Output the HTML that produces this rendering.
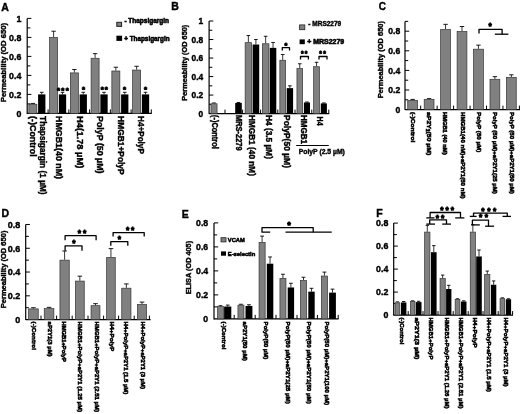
<!DOCTYPE html>
<html><head><meta charset="utf-8"><style>
html,body{margin:0;padding:0;background:#fff;}
body{width:520px;height:414px;overflow:hidden;}
svg{display:block;font-family:"Liberation Sans", sans-serif;will-change:transform;}
text{stroke:#000;}
</style></head><body>
<svg width="520" height="414" viewBox="0 0 520 414">
<rect width="520" height="414" fill="#fff"/>
<text x="1.2" y="10.6" font-size="10.5" font-weight="bold" stroke-width="0.4">A</text>
<line x1="27.2" y1="18.4" x2="27.2" y2="113.9" stroke="#000" stroke-width="1.2"/>
<line x1="27.2" y1="103.9" x2="30.4" y2="103.9" stroke="#000" stroke-width="1"/>
<line x1="27.2" y1="94.4" x2="31.4" y2="94.4" stroke="#000" stroke-width="1"/>
<line x1="27.2" y1="84.9" x2="30.4" y2="84.9" stroke="#000" stroke-width="1"/>
<line x1="27.2" y1="75.4" x2="31.4" y2="75.4" stroke="#000" stroke-width="1"/>
<line x1="27.2" y1="65.9" x2="30.4" y2="65.9" stroke="#000" stroke-width="1"/>
<line x1="27.2" y1="56.4" x2="31.4" y2="56.4" stroke="#000" stroke-width="1"/>
<line x1="27.2" y1="46.9" x2="30.4" y2="46.9" stroke="#000" stroke-width="1"/>
<line x1="27.2" y1="37.4" x2="31.4" y2="37.4" stroke="#000" stroke-width="1"/>
<line x1="27.2" y1="27.9" x2="30.4" y2="27.9" stroke="#000" stroke-width="1"/>
<line x1="27.2" y1="18.4" x2="31.4" y2="18.4" stroke="#000" stroke-width="1"/>
<text x="21.3" y="116.57" text-anchor="end" font-size="8.8" font-weight="bold" stroke-width="0.4">0</text>
<text x="21.3" y="97.57" text-anchor="end" font-size="8.8" font-weight="bold" stroke-width="0.4">0.2</text>
<text x="21.3" y="78.57" text-anchor="end" font-size="8.8" font-weight="bold" stroke-width="0.4">0.4</text>
<text x="21.3" y="59.57" text-anchor="end" font-size="8.8" font-weight="bold" stroke-width="0.4">0.6</text>
<text x="21.3" y="40.57" text-anchor="end" font-size="8.8" font-weight="bold" stroke-width="0.4">0.8</text>
<text x="21.3" y="21.57" text-anchor="end" font-size="8.8" font-weight="bold" stroke-width="0.4">1</text>
<text transform="translate(6.04,102) rotate(-90)" textLength="79" lengthAdjust="spacingAndGlyphs" font-size="7.6" font-weight="bold" stroke-width="0.4">Permeability (OD 650)</text>
<line x1="27.2" y1="113.4" x2="151.8" y2="113.4" stroke="#000" stroke-width="1.2"/>
<line x1="48.1" y1="113.4" x2="48.1" y2="109.4" stroke="#000" stroke-width="1"/>
<line x1="68.85" y1="113.4" x2="68.85" y2="109.4" stroke="#000" stroke-width="1"/>
<line x1="89.6" y1="113.4" x2="89.6" y2="109.4" stroke="#000" stroke-width="1"/>
<line x1="110.35" y1="113.4" x2="110.35" y2="109.4" stroke="#000" stroke-width="1"/>
<line x1="131.1" y1="113.4" x2="131.1" y2="109.4" stroke="#000" stroke-width="1"/>
<line x1="151.3" y1="113.4" x2="151.3" y2="109.4" stroke="#000" stroke-width="1"/>
<line x1="32.85" y1="103.43" x2="32.85" y2="103.9" stroke="#000" stroke-width="0.8"/>
<line x1="30.65" y1="103.43" x2="35.05" y2="103.43" stroke="#000" stroke-width="0.9"/>
<rect x="28.85" y="104.25" width="8" height="9.15" fill="#808080" stroke="#333333" stroke-width="0.7"/>
<line x1="41.75" y1="92.31" x2="41.75" y2="94.4" stroke="#000" stroke-width="0.8"/>
<line x1="39.95" y1="92.31" x2="43.55" y2="92.31" stroke="#000" stroke-width="0.9"/>
<rect x="38.1" y="94.4" width="7.3" height="19" fill="#000"/>
<line x1="53.6" y1="31.23" x2="53.6" y2="37.11" stroke="#000" stroke-width="0.8"/>
<line x1="51.4" y1="31.23" x2="55.8" y2="31.23" stroke="#000" stroke-width="0.9"/>
<rect x="49.6" y="37.46" width="8" height="75.94" fill="#808080" stroke="#333333" stroke-width="0.7"/>
<line x1="62.5" y1="92.31" x2="62.5" y2="94.4" stroke="#000" stroke-width="0.8"/>
<line x1="60.7" y1="92.31" x2="64.3" y2="92.31" stroke="#000" stroke-width="0.9"/>
<rect x="58.85" y="94.4" width="7.3" height="19" fill="#000"/>
<line x1="74.35" y1="69.51" x2="74.35" y2="72.55" stroke="#000" stroke-width="0.8"/>
<line x1="72.15" y1="69.51" x2="76.55" y2="69.51" stroke="#000" stroke-width="0.9"/>
<rect x="70.35" y="72.9" width="8" height="40.5" fill="#808080" stroke="#333333" stroke-width="0.7"/>
<line x1="83.25" y1="92.31" x2="83.25" y2="94.4" stroke="#000" stroke-width="0.8"/>
<line x1="81.45" y1="92.31" x2="85.05" y2="92.31" stroke="#000" stroke-width="0.9"/>
<rect x="79.6" y="94.4" width="7.3" height="19" fill="#000"/>
<line x1="95.1" y1="53.65" x2="95.1" y2="57.92" stroke="#000" stroke-width="0.8"/>
<line x1="92.9" y1="53.65" x2="97.3" y2="53.65" stroke="#000" stroke-width="0.9"/>
<rect x="91.1" y="58.27" width="8" height="55.13" fill="#808080" stroke="#333333" stroke-width="0.7"/>
<line x1="104" y1="92.31" x2="104" y2="94.4" stroke="#000" stroke-width="0.8"/>
<line x1="102.2" y1="92.31" x2="105.8" y2="92.31" stroke="#000" stroke-width="0.9"/>
<rect x="100.35" y="94.4" width="7.3" height="19" fill="#000"/>
<line x1="115.85" y1="67.23" x2="115.85" y2="70.65" stroke="#000" stroke-width="0.8"/>
<line x1="113.65" y1="67.23" x2="118.05" y2="67.23" stroke="#000" stroke-width="0.9"/>
<rect x="111.85" y="71" width="8" height="42.4" fill="#808080" stroke="#333333" stroke-width="0.7"/>
<line x1="124.75" y1="92.31" x2="124.75" y2="94.4" stroke="#000" stroke-width="0.8"/>
<line x1="122.95" y1="92.31" x2="126.55" y2="92.31" stroke="#000" stroke-width="0.9"/>
<rect x="121.1" y="94.4" width="7.3" height="19" fill="#000"/>
<line x1="136.6" y1="66.28" x2="136.6" y2="69.7" stroke="#000" stroke-width="0.8"/>
<line x1="134.4" y1="66.28" x2="138.8" y2="66.28" stroke="#000" stroke-width="0.9"/>
<rect x="132.6" y="70.05" width="8" height="43.35" fill="#808080" stroke="#333333" stroke-width="0.7"/>
<line x1="145.5" y1="92.31" x2="145.5" y2="94.4" stroke="#000" stroke-width="0.8"/>
<line x1="143.7" y1="92.31" x2="147.3" y2="92.31" stroke="#000" stroke-width="0.9"/>
<rect x="141.85" y="94.4" width="7.3" height="19" fill="#000"/>
<text x="58.45" y="92.7" text-anchor="middle" font-size="7.84" font-weight="bold" stroke-width="0.8">*</text>
<text x="62.8" y="92.7" text-anchor="middle" font-size="7.84" font-weight="bold" stroke-width="0.8">*</text>
<text x="67.15" y="92.7" text-anchor="middle" font-size="7.84" font-weight="bold" stroke-width="0.8">*</text>
<text x="83.5" y="91.6" text-anchor="middle" font-size="7.84" font-weight="bold" stroke-width="0.8">*</text>
<text x="102.3" y="92.3" text-anchor="middle" font-size="7.84" font-weight="bold" stroke-width="0.8">*</text>
<text x="106.3" y="92.3" text-anchor="middle" font-size="7.84" font-weight="bold" stroke-width="0.8">*</text>
<text x="124.6" y="92.2" text-anchor="middle" font-size="7.84" font-weight="bold" stroke-width="0.8">*</text>
<text x="145.4" y="92.2" text-anchor="middle" font-size="7.84" font-weight="bold" stroke-width="0.8">*</text>
<rect x="116.8" y="22.3" width="4.8" height="4.1" fill="#808080" stroke="#222" stroke-width="1"/>
<text x="124.4" y="23.2" textLength="44.6" lengthAdjust="spacingAndGlyphs" font-size="6.4" font-weight="bold" stroke-width="0.55">- Thapsigargin</text>
<rect x="116.4" y="35.7" width="5.7" height="5.2" fill="#000"/>
<text x="124.2" y="41.4" textLength="45.4" lengthAdjust="spacingAndGlyphs" font-size="6.4" font-weight="bold" stroke-width="0.55">+ Thapsigargin</text>
<text transform="translate(30.47,116.1) rotate(90)" textLength="40.5" lengthAdjust="spacingAndGlyphs" font-size="8.7" font-weight="bold" stroke-width="0.4">(-)Control</text>
<text transform="translate(40.17,116.1) rotate(90)" textLength="78.5" lengthAdjust="spacingAndGlyphs" font-size="8.7" font-weight="bold" stroke-width="0.4">Thapsigargin (1 µM)</text>
<text transform="translate(56.27,116.1) rotate(90)" textLength="62.9" lengthAdjust="spacingAndGlyphs" font-size="8.7" font-weight="bold" stroke-width="0.4">HMGB1(40 nM)</text>
<text transform="translate(76.67,116.1) rotate(90)" textLength="52.2" lengthAdjust="spacingAndGlyphs" font-size="8.7" font-weight="bold" stroke-width="0.4">H4(1.78 µM)</text>
<text transform="translate(97.47,116.1) rotate(90)" textLength="57.4" lengthAdjust="spacingAndGlyphs" font-size="8.7" font-weight="bold" stroke-width="0.4">PolyP (50 µM)</text>
<text transform="translate(117.87,116.1) rotate(90)" textLength="58.5" lengthAdjust="spacingAndGlyphs" font-size="8.7" font-weight="bold" stroke-width="0.4">HMGB1+PolyP</text>
<text transform="translate(138.27,116.1) rotate(90)" textLength="37.7" lengthAdjust="spacingAndGlyphs" font-size="8.7" font-weight="bold" stroke-width="0.4">H4+PolyP</text>
<text x="171.2" y="9.8" font-size="10.5" font-weight="bold" stroke-width="0.4">B</text>
<line x1="209.1" y1="21" x2="209.1" y2="114.1" stroke="#000" stroke-width="1.2"/>
<line x1="209.1" y1="104.34" x2="212.3" y2="104.34" stroke="#000" stroke-width="1"/>
<line x1="209.1" y1="95.08" x2="213.3" y2="95.08" stroke="#000" stroke-width="1"/>
<line x1="209.1" y1="85.82" x2="212.3" y2="85.82" stroke="#000" stroke-width="1"/>
<line x1="209.1" y1="76.56" x2="213.3" y2="76.56" stroke="#000" stroke-width="1"/>
<line x1="209.1" y1="67.3" x2="212.3" y2="67.3" stroke="#000" stroke-width="1"/>
<line x1="209.1" y1="58.04" x2="213.3" y2="58.04" stroke="#000" stroke-width="1"/>
<line x1="209.1" y1="48.78" x2="212.3" y2="48.78" stroke="#000" stroke-width="1"/>
<line x1="209.1" y1="39.52" x2="213.3" y2="39.52" stroke="#000" stroke-width="1"/>
<line x1="209.1" y1="30.26" x2="212.3" y2="30.26" stroke="#000" stroke-width="1"/>
<line x1="209.1" y1="21" x2="213.3" y2="21" stroke="#000" stroke-width="1"/>
<text x="203.2" y="116.62" text-anchor="end" font-size="8.4" font-weight="bold" stroke-width="0.4">0</text>
<text x="203.2" y="98.1" text-anchor="end" font-size="8.4" font-weight="bold" stroke-width="0.4">0.2</text>
<text x="203.2" y="79.58" text-anchor="end" font-size="8.4" font-weight="bold" stroke-width="0.4">0.4</text>
<text x="203.2" y="61.06" text-anchor="end" font-size="8.4" font-weight="bold" stroke-width="0.4">0.6</text>
<text x="203.2" y="42.54" text-anchor="end" font-size="8.4" font-weight="bold" stroke-width="0.4">0.8</text>
<text x="203.2" y="24.02" text-anchor="end" font-size="8.4" font-weight="bold" stroke-width="0.4">1</text>
<text transform="translate(187.2,100.7) rotate(-90)" textLength="76" lengthAdjust="spacingAndGlyphs" font-size="7.5" font-weight="bold" stroke-width="0.4">Permeability (OD 650)</text>
<line x1="209.1" y1="113.6" x2="329.2" y2="113.6" stroke="#000" stroke-width="1.2"/>
<line x1="225" y1="113.6" x2="225" y2="109.6" stroke="#000" stroke-width="1"/>
<line x1="242.6" y1="113.6" x2="242.6" y2="109.6" stroke="#000" stroke-width="1"/>
<line x1="260.6" y1="113.6" x2="260.6" y2="109.6" stroke="#000" stroke-width="1"/>
<line x1="277.8" y1="113.6" x2="277.8" y2="109.6" stroke="#000" stroke-width="1"/>
<line x1="295" y1="113.6" x2="295" y2="109.6" stroke="#000" stroke-width="1"/>
<line x1="311.8" y1="113.6" x2="311.8" y2="109.6" stroke="#000" stroke-width="1"/>
<line x1="328.8" y1="113.6" x2="328.8" y2="109.6" stroke="#000" stroke-width="1"/>
<line x1="214" y1="102.95" x2="214" y2="103.41" stroke="#000" stroke-width="0.8"/>
<line x1="212.2" y1="102.95" x2="215.8" y2="102.95" stroke="#000" stroke-width="0.9"/>
<rect x="210.95" y="103.76" width="6.1" height="9.84" fill="#808080" stroke="#333333" stroke-width="0.7"/>
<line x1="238.5" y1="102.49" x2="238.5" y2="102.95" stroke="#000" stroke-width="0.8"/>
<line x1="236.7" y1="102.49" x2="240.3" y2="102.49" stroke="#000" stroke-width="0.9"/>
<rect x="235.2" y="102.95" width="6.6" height="10.65" fill="#000"/>
<line x1="248.35" y1="35.54" x2="248.35" y2="42.3" stroke="#000" stroke-width="0.8"/>
<line x1="246.55" y1="35.54" x2="250.15" y2="35.54" stroke="#000" stroke-width="0.9"/>
<rect x="245.15" y="42.65" width="6.4" height="70.95" fill="#808080" stroke="#333333" stroke-width="0.7"/>
<line x1="255.9" y1="39.52" x2="255.9" y2="44.52" stroke="#000" stroke-width="0.8"/>
<line x1="254.1" y1="39.52" x2="257.7" y2="39.52" stroke="#000" stroke-width="0.9"/>
<rect x="252.6" y="44.52" width="6.6" height="69.08" fill="#000"/>
<line x1="265.65" y1="36.28" x2="265.65" y2="43.41" stroke="#000" stroke-width="0.8"/>
<line x1="263.85" y1="36.28" x2="267.45" y2="36.28" stroke="#000" stroke-width="0.9"/>
<rect x="262.35" y="43.76" width="6.6" height="69.84" fill="#808080" stroke="#333333" stroke-width="0.7"/>
<line x1="273.05" y1="42.48" x2="273.05" y2="47.85" stroke="#000" stroke-width="0.8"/>
<line x1="271.25" y1="42.48" x2="274.85" y2="42.48" stroke="#000" stroke-width="0.9"/>
<rect x="269.8" y="47.85" width="6.5" height="65.75" fill="#000"/>
<line x1="282.7" y1="54.52" x2="282.7" y2="59.89" stroke="#000" stroke-width="0.8"/>
<line x1="280.9" y1="54.52" x2="284.5" y2="54.52" stroke="#000" stroke-width="0.9"/>
<rect x="279.85" y="60.24" width="5.7" height="53.36" fill="#808080" stroke="#333333" stroke-width="0.7"/>
<line x1="289.9" y1="85.82" x2="289.9" y2="88.13" stroke="#000" stroke-width="0.8"/>
<line x1="288.1" y1="85.82" x2="291.7" y2="85.82" stroke="#000" stroke-width="0.9"/>
<rect x="286.7" y="88.13" width="6.4" height="25.47" fill="#000"/>
<line x1="299.75" y1="63.78" x2="299.75" y2="68.23" stroke="#000" stroke-width="0.8"/>
<line x1="297.95" y1="63.78" x2="301.55" y2="63.78" stroke="#000" stroke-width="0.9"/>
<rect x="296.95" y="68.58" width="5.6" height="45.02" fill="#808080" stroke="#333333" stroke-width="0.7"/>
<line x1="306.95" y1="102.02" x2="306.95" y2="102.49" stroke="#000" stroke-width="0.8"/>
<line x1="305.15" y1="102.02" x2="308.75" y2="102.02" stroke="#000" stroke-width="0.9"/>
<rect x="303.9" y="102.49" width="6.1" height="11.11" fill="#000"/>
<line x1="316.55" y1="62.3" x2="316.55" y2="66.37" stroke="#000" stroke-width="0.8"/>
<line x1="314.75" y1="62.3" x2="318.35" y2="62.3" stroke="#000" stroke-width="0.9"/>
<rect x="313.65" y="66.72" width="5.8" height="46.88" fill="#808080" stroke="#333333" stroke-width="0.7"/>
<line x1="323.85" y1="102.95" x2="323.85" y2="103.41" stroke="#000" stroke-width="0.8"/>
<line x1="322.05" y1="102.95" x2="325.65" y2="102.95" stroke="#000" stroke-width="0.9"/>
<rect x="320.8" y="103.41" width="6.1" height="10.19" fill="#000"/>
<polyline points="282.3,50.4 282.3,47.7 289.5,47.7 289.5,50.4" fill="none" stroke="#000" stroke-width="1.3" stroke-linejoin="round"/>
<text x="286" y="47.71" text-anchor="middle" font-size="7.28" font-weight="bold" stroke-width="0.8">*</text>
<polyline points="300.5,59.4 300.5,56.5 308.4,56.5 308.4,59.4" fill="none" stroke="#000" stroke-width="1.3" stroke-linejoin="round"/>
<text x="302.25" y="56.43" text-anchor="middle" font-size="6.72" font-weight="bold" stroke-width="0.8">*</text>
<text x="306.15" y="56.43" text-anchor="middle" font-size="6.72" font-weight="bold" stroke-width="0.8">*</text>
<polyline points="319,59.4 319,56.5 327,56.5 327,59.4" fill="none" stroke="#000" stroke-width="1.3" stroke-linejoin="round"/>
<text x="320.55" y="56.43" text-anchor="middle" font-size="6.72" font-weight="bold" stroke-width="0.8">*</text>
<text x="324.45" y="56.43" text-anchor="middle" font-size="6.72" font-weight="bold" stroke-width="0.8">*</text>
<rect x="299.6" y="24.9" width="5.2" height="4.8" fill="#808080" stroke="#222" stroke-width="0.8"/>
<text x="308.3" y="25.9" textLength="32.9" lengthAdjust="spacingAndGlyphs" font-size="6.6" font-weight="bold" stroke-width="0.4">- MRS2279</text>
<rect x="299.6" y="39.4" width="5.2" height="4.8" fill="#000"/>
<text x="307.2" y="44.4" textLength="37" lengthAdjust="spacingAndGlyphs" font-size="6.5" font-weight="bold" stroke-width="0.55">+ MRS2279</text>
<text transform="translate(212.18,115) rotate(90)" textLength="33.8" lengthAdjust="spacingAndGlyphs" font-size="8.4" font-weight="bold" stroke-width="0.4">(-)Control</text>
<text transform="translate(235.68,115) rotate(90)" textLength="35.6" lengthAdjust="spacingAndGlyphs" font-size="8.4" font-weight="bold" stroke-width="0.4">MRS-2279</text>
<text transform="translate(249.38,115) rotate(90)" textLength="61" lengthAdjust="spacingAndGlyphs" font-size="8.4" font-weight="bold" stroke-width="0.4">HMGB1 (40 nM)</text>
<text transform="translate(265.98,115) rotate(90)" textLength="44" lengthAdjust="spacingAndGlyphs" font-size="8.4" font-weight="bold" stroke-width="0.4">H4 (3.5 µM)</text>
<text transform="translate(283.88,115) rotate(90)" textLength="53" lengthAdjust="spacingAndGlyphs" font-size="8.4" font-weight="bold" stroke-width="0.4">PolyP(50 µM)</text>
<text transform="translate(300.58,115) rotate(90)" textLength="29" lengthAdjust="spacingAndGlyphs" font-size="8.4" font-weight="bold" stroke-width="0.4">HMGB1</text>
<text transform="translate(317.38,116.6) rotate(90)" textLength="9" lengthAdjust="spacingAndGlyphs" font-size="8.4" font-weight="bold" stroke-width="0.4">H4</text>
<line x1="296.2" y1="145.5" x2="328.8" y2="145.5" stroke="#000" stroke-width="1.2"/>
<text x="298.7" y="154.2" textLength="46.2" lengthAdjust="spacingAndGlyphs" font-size="7" font-weight="bold" stroke-width="0.4">PolyP (2.5 µM)</text>
<text x="378.8" y="9.6" font-size="10" font-weight="bold" stroke-width="0.4">C</text>
<line x1="405" y1="21.4" x2="405" y2="110.1" stroke="#000" stroke-width="1.2"/>
<line x1="405" y1="99.8" x2="408.2" y2="99.8" stroke="#000" stroke-width="1"/>
<line x1="405" y1="90" x2="409.2" y2="90" stroke="#000" stroke-width="1"/>
<line x1="405" y1="80.2" x2="408.2" y2="80.2" stroke="#000" stroke-width="1"/>
<line x1="405" y1="70.4" x2="409.2" y2="70.4" stroke="#000" stroke-width="1"/>
<line x1="405" y1="60.6" x2="408.2" y2="60.6" stroke="#000" stroke-width="1"/>
<line x1="405" y1="50.8" x2="409.2" y2="50.8" stroke="#000" stroke-width="1"/>
<line x1="405" y1="41" x2="408.2" y2="41" stroke="#000" stroke-width="1"/>
<line x1="405" y1="31.2" x2="409.2" y2="31.2" stroke="#000" stroke-width="1"/>
<line x1="405" y1="21.4" x2="408.2" y2="21.4" stroke="#000" stroke-width="1"/>
<text x="400.2" y="112.7" text-anchor="end" font-size="8.6" font-weight="bold" stroke-width="0.4">0</text>
<text x="400.2" y="93.1" text-anchor="end" font-size="8.6" font-weight="bold" stroke-width="0.4">0.2</text>
<text x="400.2" y="73.5" text-anchor="end" font-size="8.6" font-weight="bold" stroke-width="0.4">0.4</text>
<text x="400.2" y="53.9" text-anchor="end" font-size="8.6" font-weight="bold" stroke-width="0.4">0.6</text>
<text x="400.2" y="34.3" text-anchor="end" font-size="8.6" font-weight="bold" stroke-width="0.4">0.8</text>
<text transform="translate(382.8,98.3) rotate(-90)" textLength="77.3" lengthAdjust="spacingAndGlyphs" font-size="7.5" font-weight="bold" stroke-width="0.4">Permeability (OD 650)</text>
<line x1="405" y1="109.6" x2="520" y2="109.6" stroke="#000" stroke-width="1.2"/>
<line x1="420.7" y1="109.6" x2="420.7" y2="105.6" stroke="#000" stroke-width="1"/>
<line x1="437.15" y1="109.6" x2="437.15" y2="105.6" stroke="#000" stroke-width="1"/>
<line x1="453.6" y1="109.6" x2="453.6" y2="105.6" stroke="#000" stroke-width="1"/>
<line x1="470.05" y1="109.6" x2="470.05" y2="105.6" stroke="#000" stroke-width="1"/>
<line x1="486.5" y1="109.6" x2="486.5" y2="105.6" stroke="#000" stroke-width="1"/>
<line x1="502.95" y1="109.6" x2="502.95" y2="105.6" stroke="#000" stroke-width="1"/>
<line x1="519.4" y1="109.6" x2="519.4" y2="105.6" stroke="#000" stroke-width="1"/>
<line x1="412.65" y1="99.41" x2="412.65" y2="100" stroke="#000" stroke-width="0.8"/>
<line x1="410.45" y1="99.41" x2="414.85" y2="99.41" stroke="#000" stroke-width="0.9"/>
<rect x="407.75" y="100.35" width="9.8" height="9.25" fill="#808080" stroke="#333333" stroke-width="0.7"/>
<line x1="429.1" y1="98.62" x2="429.1" y2="99.11" stroke="#000" stroke-width="0.8"/>
<line x1="426.9" y1="98.62" x2="431.3" y2="98.62" stroke="#000" stroke-width="0.9"/>
<rect x="424.2" y="99.46" width="9.8" height="10.14" fill="#808080" stroke="#333333" stroke-width="0.7"/>
<line x1="445.55" y1="24.34" x2="445.55" y2="29.24" stroke="#000" stroke-width="0.8"/>
<line x1="443.35" y1="24.34" x2="447.75" y2="24.34" stroke="#000" stroke-width="0.9"/>
<rect x="440.65" y="29.59" width="9.8" height="80.01" fill="#808080" stroke="#333333" stroke-width="0.7"/>
<line x1="462" y1="26.5" x2="462" y2="31.2" stroke="#000" stroke-width="0.8"/>
<line x1="459.8" y1="26.5" x2="464.2" y2="26.5" stroke="#000" stroke-width="0.9"/>
<rect x="457.1" y="31.55" width="9.8" height="78.05" fill="#808080" stroke="#333333" stroke-width="0.7"/>
<line x1="478.45" y1="45.12" x2="478.45" y2="48.84" stroke="#000" stroke-width="0.8"/>
<line x1="476.25" y1="45.12" x2="480.65" y2="45.12" stroke="#000" stroke-width="0.9"/>
<rect x="473.55" y="49.19" width="9.8" height="60.41" fill="#808080" stroke="#333333" stroke-width="0.7"/>
<line x1="494.9" y1="76.67" x2="494.9" y2="78.93" stroke="#000" stroke-width="0.8"/>
<line x1="492.7" y1="76.67" x2="497.1" y2="76.67" stroke="#000" stroke-width="0.9"/>
<rect x="490" y="79.28" width="9.8" height="30.32" fill="#808080" stroke="#333333" stroke-width="0.7"/>
<line x1="511.35" y1="74.81" x2="511.35" y2="76.97" stroke="#000" stroke-width="0.8"/>
<line x1="509.15" y1="74.81" x2="513.55" y2="74.81" stroke="#000" stroke-width="0.9"/>
<rect x="506.45" y="77.32" width="9.8" height="32.28" fill="#808080" stroke="#333333" stroke-width="0.7"/>
<polyline points="479,33.4 479,29.3 502.1,29.3 502.1,34.2" fill="none" stroke="#000" stroke-width="1.3" stroke-linejoin="round"/>
<line x1="494.8" y1="34.2" x2="508.4" y2="34.2" stroke="#000" stroke-width="1.3"/>
<text x="490.1" y="29.18" text-anchor="middle" font-size="8.4" font-weight="bold" stroke-width="0.8">*</text>
<text transform="translate(411.27,112) rotate(90)" textLength="30.4" lengthAdjust="spacingAndGlyphs" font-size="6.2" font-weight="bold" stroke-width="0.55">(-)Control</text>
<text transform="translate(427.37,112) rotate(90)" textLength="43.3" lengthAdjust="spacingAndGlyphs" font-size="6.2" font-weight="bold" stroke-width="0.55">aP2Y<tspan font-size="4.5" dy="1.2">1</tspan><tspan dy="-1.2">(50 µM)</tspan></text>
<text transform="translate(442.87,112) rotate(90)" textLength="42.6" lengthAdjust="spacingAndGlyphs" font-size="6.2" font-weight="bold" stroke-width="0.55">HMGB1 (40 nM)</text>
<text transform="translate(461.07,112) rotate(90)" textLength="86.5" lengthAdjust="spacingAndGlyphs" font-size="6.2" font-weight="bold" stroke-width="0.55">HMGB1(40 nM)+aP2Y1(50 nM)</text>
<text transform="translate(476.67,112) rotate(90)" textLength="40.3" lengthAdjust="spacingAndGlyphs" font-size="6.2" font-weight="bold" stroke-width="0.55">PolyP (50 µM)</text>
<text transform="translate(492.57,112) rotate(90)" textLength="81.9" lengthAdjust="spacingAndGlyphs" font-size="6.2" font-weight="bold" stroke-width="0.55">PolyP (50 µM)+aP2Y1(25 µM)</text>
<text transform="translate(510.07,112) rotate(90)" textLength="81.9" lengthAdjust="spacingAndGlyphs" font-size="6.2" font-weight="bold" stroke-width="0.55">PolyP (50 µM)+aP2Y1(50 µM)</text>
<text x="1.4" y="217.4" font-size="10.5" font-weight="bold" stroke-width="0.4">D</text>
<line x1="25.7" y1="224.48" x2="25.7" y2="320.1" stroke="#000" stroke-width="1.2"/>
<line x1="25.7" y1="307.71" x2="28.9" y2="307.71" stroke="#000" stroke-width="1"/>
<line x1="25.7" y1="295.82" x2="29.9" y2="295.82" stroke="#000" stroke-width="1"/>
<line x1="25.7" y1="283.93" x2="28.9" y2="283.93" stroke="#000" stroke-width="1"/>
<line x1="25.7" y1="272.04" x2="29.9" y2="272.04" stroke="#000" stroke-width="1"/>
<line x1="25.7" y1="260.15" x2="28.9" y2="260.15" stroke="#000" stroke-width="1"/>
<line x1="25.7" y1="248.26" x2="29.9" y2="248.26" stroke="#000" stroke-width="1"/>
<line x1="25.7" y1="236.37" x2="28.9" y2="236.37" stroke="#000" stroke-width="1"/>
<line x1="25.7" y1="224.48" x2="29.9" y2="224.48" stroke="#000" stroke-width="1"/>
<text x="20.3" y="322.84" text-anchor="end" font-size="9" font-weight="bold" stroke-width="0.4">0</text>
<text x="20.3" y="299.06" text-anchor="end" font-size="9" font-weight="bold" stroke-width="0.4">0.2</text>
<text x="20.3" y="275.28" text-anchor="end" font-size="9" font-weight="bold" stroke-width="0.4">0.4</text>
<text x="20.3" y="251.5" text-anchor="end" font-size="9" font-weight="bold" stroke-width="0.4">0.6</text>
<text x="20.3" y="227.72" text-anchor="end" font-size="9" font-weight="bold" stroke-width="0.4">0.8</text>
<text transform="translate(5.9,308.2) rotate(-90)" textLength="77.6" lengthAdjust="spacingAndGlyphs" font-size="7.5" font-weight="bold" stroke-width="0.4">Permeability (OD 650)</text>
<line x1="25.7" y1="319.6" x2="150.6" y2="319.6" stroke="#000" stroke-width="1.2"/>
<line x1="41" y1="319.6" x2="41" y2="315.6" stroke="#000" stroke-width="1"/>
<line x1="56.6" y1="319.6" x2="56.6" y2="315.6" stroke="#000" stroke-width="1"/>
<line x1="72.2" y1="319.6" x2="72.2" y2="315.6" stroke="#000" stroke-width="1"/>
<line x1="88" y1="319.6" x2="88" y2="315.6" stroke="#000" stroke-width="1"/>
<line x1="103.6" y1="319.6" x2="103.6" y2="315.6" stroke="#000" stroke-width="1"/>
<line x1="118.6" y1="319.6" x2="118.6" y2="315.6" stroke="#000" stroke-width="1"/>
<line x1="134.2" y1="319.6" x2="134.2" y2="315.6" stroke="#000" stroke-width="1"/>
<line x1="149.4" y1="319.6" x2="149.4" y2="315.6" stroke="#000" stroke-width="1"/>
<line x1="33.4" y1="307.71" x2="33.4" y2="308.54" stroke="#000" stroke-width="0.8"/>
<line x1="31.1" y1="307.71" x2="35.7" y2="307.71" stroke="#000" stroke-width="0.9"/>
<rect x="28.55" y="308.89" width="9.7" height="10.71" fill="#808080" stroke="#333333" stroke-width="0.7"/>
<line x1="49.05" y1="307.35" x2="49.05" y2="308.3" stroke="#000" stroke-width="0.8"/>
<line x1="46.75" y1="307.35" x2="51.35" y2="307.35" stroke="#000" stroke-width="0.9"/>
<rect x="44.25" y="308.65" width="9.6" height="10.95" fill="#808080" stroke="#333333" stroke-width="0.7"/>
<line x1="64.6" y1="250.99" x2="64.6" y2="259.79" stroke="#000" stroke-width="0.8"/>
<line x1="62.3" y1="250.99" x2="66.9" y2="250.99" stroke="#000" stroke-width="0.9"/>
<rect x="59.95" y="260.14" width="9.3" height="59.46" fill="#808080" stroke="#333333" stroke-width="0.7"/>
<line x1="79.85" y1="276.2" x2="79.85" y2="280.72" stroke="#000" stroke-width="0.8"/>
<line x1="77.55" y1="276.2" x2="82.15" y2="276.2" stroke="#000" stroke-width="0.9"/>
<rect x="75.45" y="281.07" width="8.8" height="38.53" fill="#808080" stroke="#333333" stroke-width="0.7"/>
<line x1="95.5" y1="303.67" x2="95.5" y2="305.33" stroke="#000" stroke-width="0.8"/>
<line x1="93.2" y1="303.67" x2="97.8" y2="303.67" stroke="#000" stroke-width="0.9"/>
<rect x="91.05" y="305.68" width="8.9" height="13.92" fill="#808080" stroke="#333333" stroke-width="0.7"/>
<line x1="110.95" y1="248.62" x2="110.95" y2="257.06" stroke="#000" stroke-width="0.8"/>
<line x1="108.65" y1="248.62" x2="113.25" y2="248.62" stroke="#000" stroke-width="0.9"/>
<rect x="106.65" y="257.41" width="8.6" height="62.19" fill="#808080" stroke="#333333" stroke-width="0.7"/>
<line x1="126.35" y1="283.93" x2="126.35" y2="287.85" stroke="#000" stroke-width="0.8"/>
<line x1="124.05" y1="283.93" x2="128.65" y2="283.93" stroke="#000" stroke-width="0.9"/>
<rect x="121.75" y="288.2" width="9.2" height="31.4" fill="#808080" stroke="#333333" stroke-width="0.7"/>
<line x1="142" y1="302.12" x2="142" y2="304.14" stroke="#000" stroke-width="0.8"/>
<line x1="139.7" y1="302.12" x2="144.3" y2="302.12" stroke="#000" stroke-width="0.9"/>
<rect x="137.45" y="304.49" width="9.1" height="15.11" fill="#808080" stroke="#333333" stroke-width="0.7"/>
<polyline points="65.1,250.7 65.1,245.8 82,245.8 82,250.7" fill="none" stroke="#000" stroke-width="1.3" stroke-linejoin="round"/>
<text x="73.9" y="245.78" text-anchor="middle" font-size="8.4" font-weight="bold" stroke-width="0.8">*</text>
<polyline points="65.1,240.3 65.1,235.7 96.1,235.7 96.1,240.3" fill="none" stroke="#000" stroke-width="1.3" stroke-linejoin="round"/>
<text x="79.28" y="236.03" text-anchor="middle" font-size="8.4" font-weight="bold" stroke-width="0.8">*</text>
<text x="84.53" y="236.03" text-anchor="middle" font-size="8.4" font-weight="bold" stroke-width="0.8">*</text>
<polyline points="110.8,245.8 110.8,241.7 127.8,241.7 127.8,245.8" fill="none" stroke="#000" stroke-width="1.3" stroke-linejoin="round"/>
<text x="119.4" y="242.38" text-anchor="middle" font-size="8.4" font-weight="bold" stroke-width="0.8">*</text>
<polyline points="113.1,236.6 113.1,232.6 144.2,232.6 144.2,236.6" fill="none" stroke="#000" stroke-width="1.3" stroke-linejoin="round"/>
<text x="127.7" y="232.68" text-anchor="middle" font-size="8.4" font-weight="bold" stroke-width="0.8">*</text>
<text x="132.7" y="232.68" text-anchor="middle" font-size="8.4" font-weight="bold" stroke-width="0.8">*</text>
<text transform="translate(32.27,321.6) rotate(90)" textLength="28.3" lengthAdjust="spacingAndGlyphs" font-size="6.2" font-weight="bold" stroke-width="0.55">(-)Control</text>
<text transform="translate(48.07,321.6) rotate(90)" textLength="35" lengthAdjust="spacingAndGlyphs" font-size="6.2" font-weight="bold" stroke-width="0.55">aP2Y1(3 µM)</text>
<text transform="translate(62.37,321.6) rotate(90)" textLength="40.3" lengthAdjust="spacingAndGlyphs" font-size="6.2" font-weight="bold" stroke-width="0.55">HMGB1+PolyP</text>
<text transform="translate(78.17,321.6) rotate(90)" textLength="90.3" lengthAdjust="spacingAndGlyphs" font-size="6.2" font-weight="bold" stroke-width="0.55">HMGB1+PolyP+aP2Y1 (1.25 µM)</text>
<text transform="translate(94.67,321.6) rotate(90)" textLength="90.3" lengthAdjust="spacingAndGlyphs" font-size="6.2" font-weight="bold" stroke-width="0.55">HMGB1+PolyP+aP2Y1 (2.51 µM)</text>
<text transform="translate(109.67,321.6) rotate(90)" textLength="29.6" lengthAdjust="spacingAndGlyphs" font-size="6.2" font-weight="bold" stroke-width="0.55">H4+PolyP</text>
<text transform="translate(124.37,321.6) rotate(90)" textLength="72.7" lengthAdjust="spacingAndGlyphs" font-size="6.2" font-weight="bold" stroke-width="0.55">H4+PolyP+aP2Y1 (1.5 µM)</text>
<text transform="translate(140.87,321.6) rotate(90)" textLength="67.3" lengthAdjust="spacingAndGlyphs" font-size="6.2" font-weight="bold" stroke-width="0.55">H4+PolyP+aP2Y1 (3 µM)</text>
<text x="181.8" y="217.5" font-size="10.5" font-weight="bold" stroke-width="0.4">E</text>
<line x1="214" y1="222.9" x2="214" y2="319.4" stroke="#000" stroke-width="1.2"/>
<line x1="214" y1="306.9" x2="217.2" y2="306.9" stroke="#000" stroke-width="1"/>
<line x1="214" y1="294.9" x2="218.2" y2="294.9" stroke="#000" stroke-width="1"/>
<line x1="214" y1="282.9" x2="217.2" y2="282.9" stroke="#000" stroke-width="1"/>
<line x1="214" y1="270.9" x2="218.2" y2="270.9" stroke="#000" stroke-width="1"/>
<line x1="214" y1="258.9" x2="217.2" y2="258.9" stroke="#000" stroke-width="1"/>
<line x1="214" y1="246.9" x2="218.2" y2="246.9" stroke="#000" stroke-width="1"/>
<line x1="214" y1="234.9" x2="217.2" y2="234.9" stroke="#000" stroke-width="1"/>
<line x1="214" y1="222.9" x2="218.2" y2="222.9" stroke="#000" stroke-width="1"/>
<text x="208.2" y="322.03" text-anchor="end" font-size="8.7" font-weight="bold" stroke-width="0.4">0</text>
<text x="208.2" y="298.03" text-anchor="end" font-size="8.7" font-weight="bold" stroke-width="0.4">0.2</text>
<text x="208.2" y="274.03" text-anchor="end" font-size="8.7" font-weight="bold" stroke-width="0.4">0.4</text>
<text x="208.2" y="250.03" text-anchor="end" font-size="8.7" font-weight="bold" stroke-width="0.4">0.6</text>
<text x="208.2" y="226.03" text-anchor="end" font-size="8.7" font-weight="bold" stroke-width="0.4">0.8</text>
<text transform="translate(190.79,294.3) rotate(-90)" textLength="53.4" lengthAdjust="spacingAndGlyphs" font-size="7.2" font-weight="bold" stroke-width="0.4">ELISA (OD 405)</text>
<line x1="214" y1="318.9" x2="338.6" y2="318.9" stroke="#000" stroke-width="1.2"/>
<line x1="234.2" y1="318.9" x2="234.2" y2="314.9" stroke="#000" stroke-width="1"/>
<line x1="255.2" y1="318.9" x2="255.2" y2="314.9" stroke="#000" stroke-width="1"/>
<line x1="276" y1="318.9" x2="276" y2="314.9" stroke="#000" stroke-width="1"/>
<line x1="297" y1="318.9" x2="297" y2="314.9" stroke="#000" stroke-width="1"/>
<line x1="317.4" y1="318.9" x2="317.4" y2="314.9" stroke="#000" stroke-width="1"/>
<line x1="338.2" y1="318.9" x2="338.2" y2="314.9" stroke="#000" stroke-width="1"/>
<line x1="220.45" y1="305.7" x2="220.45" y2="306.3" stroke="#000" stroke-width="0.8"/>
<line x1="218.55" y1="305.7" x2="222.35" y2="305.7" stroke="#000" stroke-width="0.9"/>
<rect x="217.55" y="306.65" width="5.8" height="12.25" fill="#808080" stroke="#333333" stroke-width="0.7"/>
<line x1="227.7" y1="305.1" x2="227.7" y2="306.54" stroke="#000" stroke-width="0.8"/>
<line x1="225.8" y1="305.1" x2="229.6" y2="305.1" stroke="#000" stroke-width="0.9"/>
<rect x="224.1" y="306.54" width="7.2" height="12.36" fill="#000"/>
<line x1="240.95" y1="304.26" x2="240.95" y2="304.74" stroke="#000" stroke-width="0.8"/>
<line x1="239.05" y1="304.26" x2="242.85" y2="304.26" stroke="#000" stroke-width="0.9"/>
<rect x="237.95" y="305.09" width="6" height="13.81" fill="#808080" stroke="#333333" stroke-width="0.7"/>
<line x1="248.95" y1="304.74" x2="248.95" y2="305.94" stroke="#000" stroke-width="0.8"/>
<line x1="247.05" y1="304.74" x2="250.85" y2="304.74" stroke="#000" stroke-width="0.9"/>
<rect x="245.5" y="305.94" width="6.9" height="12.96" fill="#000"/>
<line x1="262.1" y1="236.1" x2="262.1" y2="242.1" stroke="#000" stroke-width="0.8"/>
<line x1="260.2" y1="236.1" x2="264" y2="236.1" stroke="#000" stroke-width="0.9"/>
<rect x="259.05" y="242.45" width="6.1" height="76.45" fill="#808080" stroke="#333333" stroke-width="0.7"/>
<line x1="270.05" y1="256.98" x2="270.05" y2="263.7" stroke="#000" stroke-width="0.8"/>
<line x1="268.15" y1="256.98" x2="271.95" y2="256.98" stroke="#000" stroke-width="0.9"/>
<rect x="266.8" y="263.7" width="6.5" height="55.2" fill="#000"/>
<line x1="282.95" y1="274.26" x2="282.95" y2="278.1" stroke="#000" stroke-width="0.8"/>
<line x1="281.05" y1="274.26" x2="284.85" y2="274.26" stroke="#000" stroke-width="0.9"/>
<rect x="279.95" y="278.45" width="6" height="40.45" fill="#808080" stroke="#333333" stroke-width="0.7"/>
<line x1="290.9" y1="283.26" x2="290.9" y2="287.46" stroke="#000" stroke-width="0.8"/>
<line x1="289" y1="283.26" x2="292.8" y2="283.26" stroke="#000" stroke-width="0.9"/>
<rect x="287.7" y="287.46" width="6.4" height="31.44" fill="#000"/>
<line x1="303.5" y1="277.26" x2="303.5" y2="280.14" stroke="#000" stroke-width="0.8"/>
<line x1="301.6" y1="277.26" x2="305.4" y2="277.26" stroke="#000" stroke-width="0.9"/>
<rect x="300.45" y="280.49" width="6.1" height="38.41" fill="#808080" stroke="#333333" stroke-width="0.7"/>
<line x1="311.5" y1="288.3" x2="311.5" y2="291.66" stroke="#000" stroke-width="0.8"/>
<line x1="309.6" y1="288.3" x2="313.4" y2="288.3" stroke="#000" stroke-width="0.9"/>
<rect x="308.3" y="291.66" width="6.4" height="27.24" fill="#000"/>
<line x1="324.4" y1="272.1" x2="324.4" y2="275.7" stroke="#000" stroke-width="0.8"/>
<line x1="322.5" y1="272.1" x2="326.3" y2="272.1" stroke="#000" stroke-width="0.9"/>
<rect x="321.35" y="276.05" width="6.1" height="42.85" fill="#808080" stroke="#333333" stroke-width="0.7"/>
<line x1="332.5" y1="289.14" x2="332.5" y2="292.62" stroke="#000" stroke-width="0.8"/>
<line x1="330.6" y1="289.14" x2="334.4" y2="289.14" stroke="#000" stroke-width="0.9"/>
<rect x="329.1" y="292.62" width="6.8" height="26.28" fill="#000"/>
<polyline points="270.2,232.2 262,232.2 262,227.6 313.2,227.6 313.2,232.2" fill="none" stroke="#000" stroke-width="1.3" stroke-linejoin="round"/>
<line x1="285.5" y1="232.2" x2="331.7" y2="232.2" stroke="#000" stroke-width="1.3"/>
<text x="289.1" y="227.81" text-anchor="middle" font-size="9.24" font-weight="bold" stroke-width="0.8">*</text>
<rect x="221" y="237.7" width="5" height="4.2" fill="#808080" stroke="#222" stroke-width="0.8"/>
<text x="227.8" y="241.6" textLength="17" lengthAdjust="spacingAndGlyphs" font-size="6" font-weight="bold" stroke-width="0.55">VCAM</text>
<rect x="221" y="251.4" width="5" height="4.3" fill="#000"/>
<text x="227.8" y="255.6" textLength="27.4" lengthAdjust="spacingAndGlyphs" font-size="6" font-weight="bold" stroke-width="0.55">E-selectin</text>
<text transform="translate(221.87,321.6) rotate(90)" textLength="27.8" lengthAdjust="spacingAndGlyphs" font-size="6.2" font-weight="bold" stroke-width="0.55">(-)Control</text>
<text transform="translate(243.07,321.6) rotate(90)" textLength="39.1" lengthAdjust="spacingAndGlyphs" font-size="6.2" font-weight="bold" stroke-width="0.55">aP2Y1(50 µM)</text>
<text transform="translate(264.07,321.6) rotate(90)" textLength="37.7" lengthAdjust="spacingAndGlyphs" font-size="6.2" font-weight="bold" stroke-width="0.55">PolyP(50 µM)</text>
<text transform="translate(285.77,321.6) rotate(90)" textLength="82.2" lengthAdjust="spacingAndGlyphs" font-size="6.2" font-weight="bold" stroke-width="0.55">PolyP(50 µM)+aP2Y1(25 µM)</text>
<text transform="translate(306.67,321.6) rotate(90)" textLength="82.2" lengthAdjust="spacingAndGlyphs" font-size="6.2" font-weight="bold" stroke-width="0.55">PolyP(50 µM)+aP2Y1(50 µM)</text>
<text transform="translate(325.47,321.6) rotate(90)" textLength="83.5" lengthAdjust="spacingAndGlyphs" font-size="6.2" font-weight="bold" stroke-width="0.55">PolyP(50 µM)+aP2Y1(100 µM)</text>
<text x="376.2" y="217.4" font-size="10.5" font-weight="bold" stroke-width="0.4">F</text>
<line x1="393.7" y1="223.1" x2="393.7" y2="315.6" stroke="#000" stroke-width="1.2"/>
<line x1="393.7" y1="303.6" x2="396.9" y2="303.6" stroke="#000" stroke-width="1"/>
<line x1="393.7" y1="292.1" x2="397.9" y2="292.1" stroke="#000" stroke-width="1"/>
<line x1="393.7" y1="280.6" x2="396.9" y2="280.6" stroke="#000" stroke-width="1"/>
<line x1="393.7" y1="269.1" x2="397.9" y2="269.1" stroke="#000" stroke-width="1"/>
<line x1="393.7" y1="257.6" x2="396.9" y2="257.6" stroke="#000" stroke-width="1"/>
<line x1="393.7" y1="246.1" x2="397.9" y2="246.1" stroke="#000" stroke-width="1"/>
<line x1="393.7" y1="234.6" x2="396.9" y2="234.6" stroke="#000" stroke-width="1"/>
<line x1="393.7" y1="223.1" x2="397.9" y2="223.1" stroke="#000" stroke-width="1"/>
<text x="388.3" y="318.27" text-anchor="end" font-size="8.8" font-weight="bold" stroke-width="0.4">0</text>
<text x="388.3" y="295.27" text-anchor="end" font-size="8.8" font-weight="bold" stroke-width="0.4">0.2</text>
<text x="388.3" y="272.27" text-anchor="end" font-size="8.8" font-weight="bold" stroke-width="0.4">0.4</text>
<text x="388.3" y="249.27" text-anchor="end" font-size="8.8" font-weight="bold" stroke-width="0.4">0.6</text>
<text x="388.3" y="226.27" text-anchor="end" font-size="8.8" font-weight="bold" stroke-width="0.4">0.8</text>
<line x1="393.7" y1="315.1" x2="513" y2="315.1" stroke="#000" stroke-width="1.2"/>
<line x1="408.2" y1="315.1" x2="408.2" y2="311.1" stroke="#000" stroke-width="1"/>
<line x1="423" y1="315.1" x2="423" y2="311.1" stroke="#000" stroke-width="1"/>
<line x1="438" y1="315.1" x2="438" y2="311.1" stroke="#000" stroke-width="1"/>
<line x1="453.2" y1="315.1" x2="453.2" y2="311.1" stroke="#000" stroke-width="1"/>
<line x1="468.2" y1="315.1" x2="468.2" y2="311.1" stroke="#000" stroke-width="1"/>
<line x1="483" y1="315.1" x2="483" y2="311.1" stroke="#000" stroke-width="1"/>
<line x1="498.2" y1="315.1" x2="498.2" y2="311.1" stroke="#000" stroke-width="1"/>
<line x1="512.6" y1="315.1" x2="512.6" y2="311.1" stroke="#000" stroke-width="1"/>
<line x1="397.45" y1="301.88" x2="397.45" y2="302.45" stroke="#000" stroke-width="0.8"/>
<line x1="395.75" y1="301.88" x2="399.15" y2="301.88" stroke="#000" stroke-width="0.9"/>
<rect x="395.05" y="302.8" width="4.8" height="12.3" fill="#808080" stroke="#333333" stroke-width="0.7"/>
<line x1="403.7" y1="301.53" x2="403.7" y2="302.45" stroke="#000" stroke-width="0.8"/>
<line x1="402" y1="301.53" x2="405.4" y2="301.53" stroke="#000" stroke-width="0.9"/>
<rect x="401" y="302.45" width="5.4" height="12.65" fill="#000"/>
<line x1="412.7" y1="300.84" x2="412.7" y2="301.3" stroke="#000" stroke-width="0.8"/>
<line x1="411" y1="300.84" x2="414.4" y2="300.84" stroke="#000" stroke-width="0.9"/>
<rect x="410.45" y="301.65" width="4.5" height="13.45" fill="#808080" stroke="#333333" stroke-width="0.7"/>
<line x1="418.65" y1="301.3" x2="418.65" y2="302.11" stroke="#000" stroke-width="0.8"/>
<line x1="416.95" y1="301.3" x2="420.35" y2="301.3" stroke="#000" stroke-width="0.9"/>
<rect x="415.8" y="302.11" width="5.7" height="13" fill="#000"/>
<line x1="427.3" y1="225.4" x2="427.3" y2="231.73" stroke="#000" stroke-width="0.8"/>
<line x1="425.6" y1="225.4" x2="429" y2="225.4" stroke="#000" stroke-width="0.9"/>
<rect x="424.65" y="232.08" width="5.3" height="83.03" fill="#808080" stroke="#333333" stroke-width="0.7"/>
<line x1="433.8" y1="245.64" x2="433.8" y2="252.2" stroke="#000" stroke-width="0.8"/>
<line x1="432.1" y1="245.64" x2="435.5" y2="245.64" stroke="#000" stroke-width="0.9"/>
<rect x="431" y="252.2" width="5.6" height="62.91" fill="#000"/>
<line x1="442.65" y1="275.08" x2="442.65" y2="278.3" stroke="#000" stroke-width="0.8"/>
<line x1="440.95" y1="275.08" x2="444.35" y2="275.08" stroke="#000" stroke-width="0.9"/>
<rect x="440.05" y="278.65" width="5.2" height="36.45" fill="#808080" stroke="#333333" stroke-width="0.7"/>
<line x1="448.75" y1="285.31" x2="448.75" y2="289" stroke="#000" stroke-width="0.8"/>
<line x1="447.05" y1="285.31" x2="450.45" y2="285.31" stroke="#000" stroke-width="0.9"/>
<rect x="446.1" y="289" width="5.3" height="26.11" fill="#000"/>
<line x1="457.5" y1="298.77" x2="457.5" y2="299.23" stroke="#000" stroke-width="0.8"/>
<line x1="455.8" y1="298.77" x2="459.2" y2="298.77" stroke="#000" stroke-width="0.9"/>
<rect x="455.15" y="299.58" width="4.7" height="15.52" fill="#808080" stroke="#333333" stroke-width="0.7"/>
<line x1="463.7" y1="300.84" x2="463.7" y2="301.53" stroke="#000" stroke-width="0.8"/>
<line x1="462" y1="300.84" x2="465.4" y2="300.84" stroke="#000" stroke-width="0.9"/>
<rect x="460.9" y="301.53" width="5.6" height="13.57" fill="#000"/>
<line x1="472.85" y1="224.71" x2="472.85" y2="231.73" stroke="#000" stroke-width="0.8"/>
<line x1="471.15" y1="224.71" x2="474.55" y2="224.71" stroke="#000" stroke-width="0.9"/>
<rect x="470.25" y="232.08" width="5.2" height="83.03" fill="#808080" stroke="#333333" stroke-width="0.7"/>
<line x1="479" y1="250.01" x2="479" y2="256.45" stroke="#000" stroke-width="0.8"/>
<line x1="477.3" y1="250.01" x2="480.7" y2="250.01" stroke="#000" stroke-width="0.9"/>
<rect x="476.2" y="256.45" width="5.6" height="58.65" fill="#000"/>
<line x1="487.25" y1="271.06" x2="487.25" y2="274.05" stroke="#000" stroke-width="0.8"/>
<line x1="485.55" y1="271.06" x2="488.95" y2="271.06" stroke="#000" stroke-width="0.9"/>
<rect x="484.65" y="274.4" width="5.2" height="40.71" fill="#808080" stroke="#333333" stroke-width="0.7"/>
<line x1="493.65" y1="280.95" x2="493.65" y2="284.74" stroke="#000" stroke-width="0.8"/>
<line x1="491.95" y1="280.95" x2="495.35" y2="280.95" stroke="#000" stroke-width="0.9"/>
<rect x="491" y="284.74" width="5.3" height="30.36" fill="#000"/>
<line x1="502.35" y1="297.85" x2="502.35" y2="298.31" stroke="#000" stroke-width="0.8"/>
<line x1="500.65" y1="297.85" x2="504.05" y2="297.85" stroke="#000" stroke-width="0.9"/>
<rect x="500.05" y="298.66" width="4.6" height="16.44" fill="#808080" stroke="#333333" stroke-width="0.7"/>
<line x1="508.45" y1="298.77" x2="508.45" y2="299.23" stroke="#000" stroke-width="0.8"/>
<line x1="506.75" y1="298.77" x2="510.15" y2="298.77" stroke="#000" stroke-width="0.9"/>
<rect x="505.8" y="299.23" width="5.3" height="15.87" fill="#000"/>
<polyline points="430.1,217.9 430.1,212.5 460.5,212.5 460.5,217.9" fill="none" stroke="#000" stroke-width="1.3" stroke-linejoin="round"/>
<line x1="426.3" y1="217.9" x2="434.5" y2="217.9" stroke="#000" stroke-width="1.3"/>
<line x1="455.2" y1="217.9" x2="464.4" y2="217.9" stroke="#000" stroke-width="1.3"/>
<text x="441.9" y="213.03" text-anchor="middle" font-size="8.4" font-weight="bold" stroke-width="0.8">*</text>
<text x="447.2" y="213.03" text-anchor="middle" font-size="8.4" font-weight="bold" stroke-width="0.8">*</text>
<text x="452.5" y="213.03" text-anchor="middle" font-size="8.4" font-weight="bold" stroke-width="0.8">*</text>
<polyline points="429.7,224.1 429.7,219.8 446.5,219.8 446.5,224.1" fill="none" stroke="#000" stroke-width="1.3" stroke-linejoin="round"/>
<line x1="426.3" y1="224.1" x2="435" y2="224.1" stroke="#000" stroke-width="1.3"/>
<line x1="442.2" y1="224.1" x2="450.9" y2="224.1" stroke="#000" stroke-width="1.3"/>
<text x="437.48" y="220.53" text-anchor="middle" font-size="8.4" font-weight="bold" stroke-width="0.8">*</text>
<text x="442.73" y="220.53" text-anchor="middle" font-size="8.4" font-weight="bold" stroke-width="0.8">*</text>
<polyline points="473.5,216.4 473.5,213.2 507.3,213.2 507.3,216.4" fill="none" stroke="#000" stroke-width="1.3" stroke-linejoin="round"/>
<line x1="469.8" y1="216.4" x2="476.6" y2="216.4" stroke="#000" stroke-width="1.3"/>
<line x1="502.5" y1="216.4" x2="511" y2="216.4" stroke="#000" stroke-width="1.3"/>
<text x="483" y="213.58" text-anchor="middle" font-size="8.4" font-weight="bold" stroke-width="0.8">*</text>
<text x="488.8" y="213.58" text-anchor="middle" font-size="8.4" font-weight="bold" stroke-width="0.8">*</text>
<text x="494.6" y="213.58" text-anchor="middle" font-size="8.4" font-weight="bold" stroke-width="0.8">*</text>
<polyline points="472.4,224.9 472.4,220.1 488.5,220.1 488.5,226.2" fill="none" stroke="#000" stroke-width="1.3" stroke-linejoin="round"/>
<line x1="471.3" y1="224.9" x2="479.8" y2="224.9" stroke="#000" stroke-width="1.3"/>
<line x1="485.1" y1="226.2" x2="494.1" y2="226.2" stroke="#000" stroke-width="1.3"/>
<text x="480.7" y="220.38" text-anchor="middle" font-size="8.4" font-weight="bold" stroke-width="0.8">*</text>
<text x="486.3" y="220.38" text-anchor="middle" font-size="8.4" font-weight="bold" stroke-width="0.8">*</text>
<text transform="translate(400.37,317.4) rotate(90)" textLength="27" lengthAdjust="spacingAndGlyphs" font-size="6.2" font-weight="bold" stroke-width="0.55">(-)Control</text>
<text transform="translate(414.77,317.4) rotate(90)" textLength="42" lengthAdjust="spacingAndGlyphs" font-size="6.2" font-weight="bold" stroke-width="0.55">aP2Y1(3 µM)</text>
<text transform="translate(428.67,317.4) rotate(90)" textLength="42" lengthAdjust="spacingAndGlyphs" font-size="6.2" font-weight="bold" stroke-width="0.55">HMGB1+PolyP</text>
<text transform="translate(444.57,317.4) rotate(90)" textLength="91.2" lengthAdjust="spacingAndGlyphs" font-size="6.2" font-weight="bold" stroke-width="0.55">HMGB1+PolyP+aP2Y1 (1.26 µM)</text>
<text transform="translate(459.17,317.4) rotate(90)" textLength="91.2" lengthAdjust="spacingAndGlyphs" font-size="6.2" font-weight="bold" stroke-width="0.55">HMGB1+PolyP+aP2Y1 (2.51 µM)</text>
<text transform="translate(472.87,317.4) rotate(90)" textLength="30.2" lengthAdjust="spacingAndGlyphs" font-size="6.2" font-weight="bold" stroke-width="0.55">H4+PolyP</text>
<text transform="translate(486.67,317.4) rotate(90)" textLength="74.4" lengthAdjust="spacingAndGlyphs" font-size="6.2" font-weight="bold" stroke-width="0.55">H4+PolyP+aP2Y1 (1.5 µM)</text>
<text transform="translate(504.17,317.4) rotate(90)" textLength="69.2" lengthAdjust="spacingAndGlyphs" font-size="6.2" font-weight="bold" stroke-width="0.55">H4+PolyP+aP2Y1 (3 µM)</text>
</svg>
</body></html>
